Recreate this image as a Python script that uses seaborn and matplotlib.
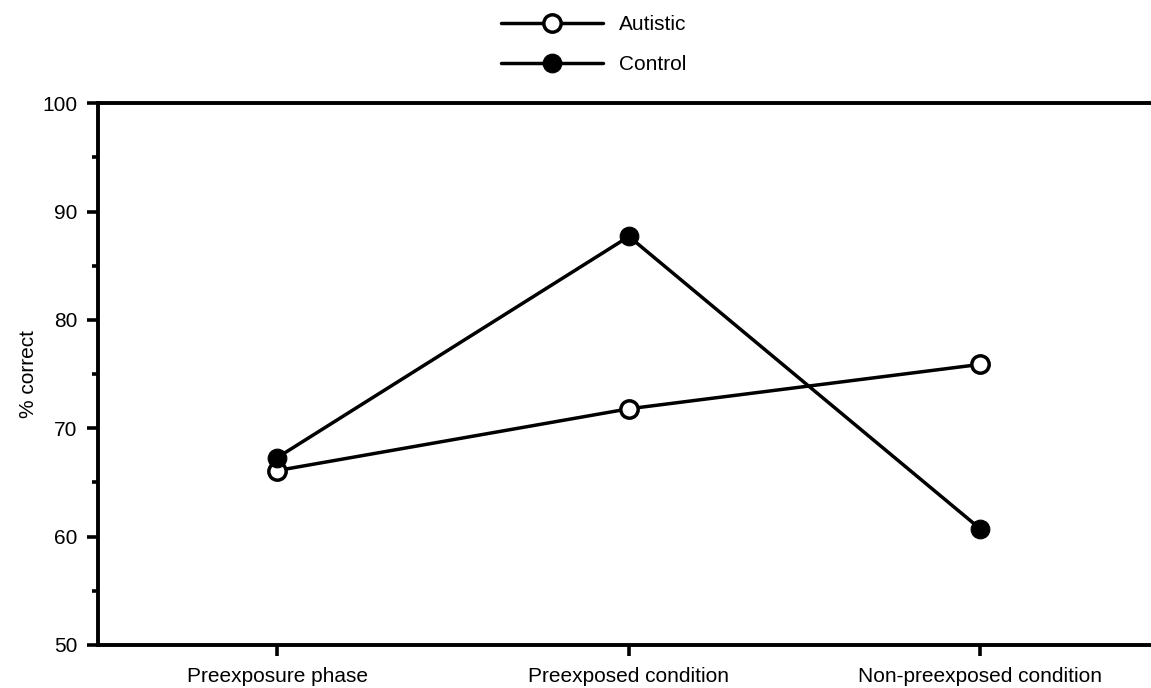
import matplotlib
matplotlib.use("Agg")
import matplotlib.pyplot as plt
import seaborn as sns
import pandas as pd
from matplotlib.ticker import MultipleLocator

categories = ["Preexposure phase", "Preexposed condition", "Non-preexposed condition"]
autistic = [66.1, 71.8, 75.9]
control = [67.3, 87.7, 60.7]

sns.set_style("white")
plt.rcParams['font.family'] = ['Liberation Sans', 'DejaVu Sans']
plt.rcParams['text.color'] = 'black'
plt.rcParams['axes.labelcolor'] = 'black'
plt.rcParams['xtick.color'] = 'black'
plt.rcParams['ytick.color'] = 'black'

df = pd.DataFrame({
    "cond": categories * 2,
    "pos": list(range(len(categories))) * 2,
    "value": autistic + control,
    "group": ["Autistic"] * 3 + ["Control"] * 3,
})

fig = plt.figure(figsize=(11.51, 6.88), dpi=100)
ax = fig.add_axes([0.0852, 0.0625, 0.9148, 0.7875])

sns.lineplot(data=df[df.group == "Autistic"], x="pos", y="value", ax=ax,
             color="black", lw=2.5, marker="o", markersize=12.5,
             markerfacecolor="white", markeredgecolor="black", markeredgewidth=2.5,
             label="Autistic", zorder=3)
sns.lineplot(data=df[df.group == "Control"], x="pos", y="value", ax=ax,
             color="black", lw=2.5, marker="o", markersize=13.5,
             markerfacecolor="black", markeredgecolor="black",
             label="Control", zorder=4)

ax.set_xlim(-0.51, 2.485)
ax.set_ylim(50, 100)
ax.set_xticks(range(len(categories)))
ax.set_xticklabels(categories, fontsize=15)
ax.yaxis.set_major_locator(MultipleLocator(10))
ax.yaxis.set_minor_locator(MultipleLocator(5))
ax.tick_params(axis='y', which='major', direction='out', length=8, width=2.6, labelsize=15, left=True, pad=7)
ax.tick_params(axis='y', which='minor', direction='out', length=4, width=2.6, left=True)
ax.tick_params(axis='x', which='major', direction='out', length=8, width=2.6, bottom=True, pad=8)
ax.set_xlabel("")
ax.set_ylabel("% correct", fontsize=15, labelpad=3)

for s in ["left", "top", "bottom"]:
    ax.spines[s].set_visible(True)
    ax.spines[s].set_linewidth(2.8)
    ax.spines[s].set_color("black")
ax.spines["right"].set_visible(False)

handles, labels = ax.get_legend_handles_labels()
if ax.legend_:
    ax.legend_.remove()
fig.legend(handles, labels, loc="upper center", bbox_to_anchor=(0.516, 1.005),
           frameon=False, fontsize=15, handlelength=4.9, labelspacing=1.0,
           handletextpad=0.75)

fig.savefig("out.png", dpi=100, facecolor="white")
